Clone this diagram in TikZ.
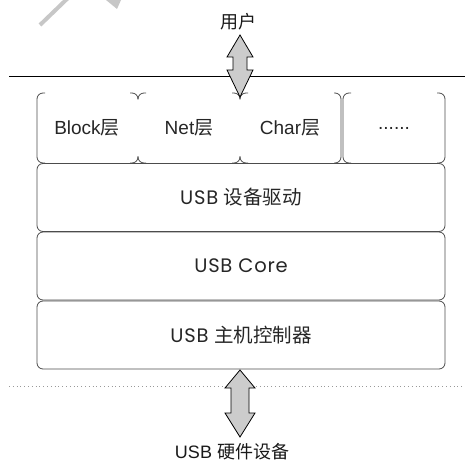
\documentclass[tikz,border=0pt]{standalone}
\usepackage{fontspec}
\setmainfont{Liberation Sans}
\newfontfamily\cjk{Noto Sans CJK SC}
\newfontfamily\geo[LetterSpace=4]{Poppins}
\begin{document}
\begin{tikzpicture}[x=1pt,y=-1pt,
  edge/.style={draw=black!70, line width=0.8pt, rounded corners=6pt},
  layerbox/.style={draw=black!70, line width=0.8pt, rounded corners=6pt,
    minimum width=408pt, minimum height=68pt, inner sep=0pt,
    font=\fontsize{19.5}{22}\selectfont, text=black!85},
  toptext/.style={inner sep=0pt, font=\fontsize{19}{22}\selectfont, text=black!85},
  plaintext/.style={inner sep=0pt, font=\fontsize{18}{21}\selectfont, text=black!90},
  bigarrow/.style={draw=black, line width=0.8pt, fill=black!20, line join=miter}]
\useasboundingbox (0,0) rectangle (465,462);
% watermark fragments
\draw[black!22, line width=4pt] (40,25) -- (68,-2);
\fill[black!22] (106,0) -- (121,0) -- (117,9) -- cycle;

% user label and separator line
\node[plaintext] (user) at (238,22) {\cjk 用户};
\coordinate (lineL) at (9,77);
\coordinate (lineR) at (465,77);
\draw[black, line width=1pt] (lineL) -- (lineR);

% top row (Block / Net / Char / ......)
\node[toptext] (blk) at (87,128) {Block{\cjk 层}};
\node[toptext] (net) at (189,128) {Net{\cjk 层}};
\node[toptext] (chr) at (290,128) {Char{\cjk 层}};
\node[toptext] (etc) at (394,128) {......};
% left side of Block box
\draw[edge] (45,93) -- (37,93) -- (37,163) -- (45,163);
% notches between Block/Net and Net/Char
\draw[edge] (130,93) -- (138,93) -- (138,99.5);
\draw[edge] (146,93) -- (138,93) -- (138,99.5);
\draw[edge] (130,163) -- (138,163) -- (138,156.5);
\draw[edge] (146,163) -- (138,163) -- (138,156.5);
\draw[edge] (232,93) -- (240,93) -- (240,99.5);
\draw[edge] (248,93) -- (240,93) -- (240,99.5);
\draw[edge] (232,163) -- (240,163) -- (240,156.5);
\draw[edge] (248,163) -- (240,163) -- (240,156.5);
% right side of Char box and the ...... box
\draw[edge] (334,93) -- (341,93) -- (341,163) -- (334,163);
\draw[edge] (351,93) -- (343,93) -- (343,163) -- (351,163);
\draw[edge] (437,93) -- (445,93) -- (445,163) -- (437,163);

% stacked layers
\node[layerbox] (drv) at (241,197.5) {{\geo USB} {\cjk 设备驱动}};
\node[layerbox] (core) at (241,266) {\geo USB Core};
\node[layerbox] (hcd) at (241,335) {{\geo USB} {\cjk 主机控制器}};

% dotted separator
\coordinate (dotL) at (9,386);
\coordinate (dotR) at (465,386);
\draw[black!40, line width=0.8pt, dash pattern=on 0.8pt off 3pt] (dotL) -- (dotR);

% hardware label
\node[plaintext] (hw) at (232,452) {USB {\cjk 硬件设备}};

% double arrows
\filldraw[bigarrow] (240,35) -- (253,57) -- (247,57) -- (247,70) -- (253,70) -- (240,97)
  -- (227,70) -- (233,70) -- (233,57) -- (227,57) -- cycle;
\filldraw[bigarrow] (240,370) -- (255,388) -- (249,388) -- (249,413) -- (255,413) -- (240,437)
  -- (225,413) -- (231,413) -- (231,388) -- (225,388) -- cycle;
\end{tikzpicture}
\end{document}
